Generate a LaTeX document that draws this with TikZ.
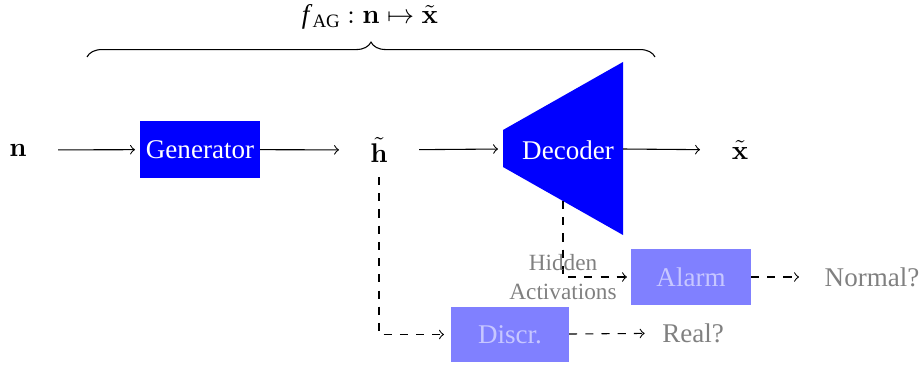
\documentclass[tikz,border=0pt]{standalone}
\usepackage[no-math]{fontspec}
\setmainfont{Liberation Serif}
\usetikzlibrary{decorations.pathreplacing}
\begin{document}
\begin{tikzpicture}[x=0.37pt,y=-0.37pt,
  every node/.style={font=\fontsize{10}{12}\selectfont},
  var/.style={minimum width=29.6pt,outer sep=0pt},
  block/.style={fill=blue,text=white,minimum width=44.4pt,minimum height=21.1pt,inner sep=0pt,outer sep=0pt},
  ghost/.style={fill=blue!50,text=blue!22,minimum width=44.4pt,minimum height=20.7pt,inner sep=0pt,outer sep=0pt},
  faint/.style={text=gray},
  conn/.style={->},
  dconn/.style={->,dashed}]
\useasboundingbox (0,0) rectangle (920,366);
% main chain
\node[var] (n) at (18,150) {$\mathbf{n}$};
\node[block] (gen) at (200,149.5) {Generator};
\node[var] (hh) at (379,150) {$\tilde{\mathbf{h}}$};
\node[minimum width=44.4pt,minimum height=64pt,inner sep=0pt,outer sep=0pt] (dec) at (563,148.5) {};
\fill[blue] (503,130) -- (623,62) -- (623,235) -- (503,167) -- cycle;
\node[text=white] (dect) at (568,150) {Decoder};
\node[var] (xt) at (740,150) {$\tilde{\mathbf{x}}$};
\draw[conn,shorten >=1.85pt] (n) -- (gen);
\draw[conn] (gen) -- (hh);
\draw[conn,shorten >=1.85pt] (hh) -- (dec);
\draw[conn] (dec) -- (xt);
% brace
\coordinate (bl) at (87,57);
\coordinate (br) at (655,57);
\draw[decorate,decoration={brace,amplitude=5.5pt}] (bl) -- (br);
\node (lab) at (370,17) {\textit{f}\raisebox{-0.3ex}{\fontsize{7}{8}\selectfont AG}$\;:\mathbf{n}\mapsto\tilde{\mathbf{x}}$};
% auxiliary
\node[ghost] (alarm) at (691,277) {Alarm};
\node[ghost,minimum width=43.7pt,minimum height=20.4pt] (disc) at (510,334.5) {Discr.};
\node[faint] (normal) at (872,277) {Normal?};
\node[faint] (real) at (693,333) {Real?};
\coordinate (decbot) at (563,201);
\draw[dconn,shorten >=1.5pt] (decbot) |- (alarm.west)
  node[pos=0.5,faint,align=center,font=\fontsize{8.6}{10.7}\selectfont] (hid) {Hidden\\Activations};
\draw[dconn,shorten >=2.6pt,shorten <=2pt] (hh.south) |- (disc.west);
\draw[dconn,shorten >=6pt] (alarm) -- (normal);
\draw[dconn,shorten >=3pt] (disc) -- (real);
\end{tikzpicture}
\end{document}
